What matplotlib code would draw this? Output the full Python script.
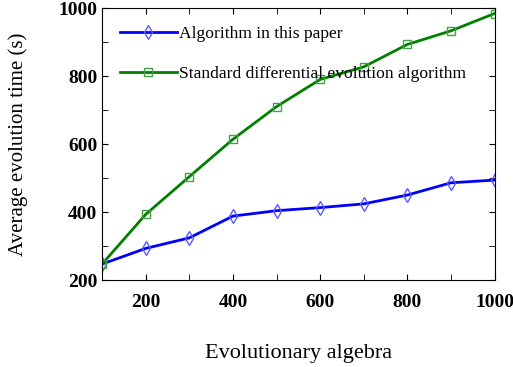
import matplotlib.pyplot as plt
from matplotlib.ticker import MultipleLocator

plt.rcParams['font.family'] = ['Liberation Serif', 'DejaVu Serif']

# Data
generations = [100, 200, 300, 400, 500, 600, 700, 800, 900, 1000]
time_paper = [247, 293, 324, 388, 404, 413, 424, 450, 486, 494]
time_standard = [247, 393, 504, 614, 710, 790, 827, 893, 933, 984]

fig = plt.figure(figsize=(5.13, 3.67), dpi=100)
ax = fig.add_axes([0.199, 0.237, 0.765, 0.741])

ax.plot(generations, time_paper, color='#0000ff', lw=2, marker='d', ms=7,
        mfc='none', mec='#5a5aff', mew=1, label='Algorithm in this paper')
ax.plot(generations, time_standard, color='#007f00', lw=2, marker='s', ms=6,
        mfc='none', mec='#44a044', mew=1, label='Standard differential evolution algorithm')

ax.set_xlim(100, 1000)
ax.set_ylim(200, 1000)
ax.xaxis.set_major_locator(MultipleLocator(200))
ax.xaxis.set_minor_locator(MultipleLocator(100))
ax.yaxis.set_major_locator(MultipleLocator(200))
ax.yaxis.set_minor_locator(MultipleLocator(100))
ax.tick_params(which='both', direction='in', top=True, right=True, labelsize=14)
ax.tick_params(which='major', length=4)
ax.tick_params(which='minor', length=4)
for lab in ax.get_xticklabels() + ax.get_yticklabels():
    lab.set_fontweight('bold')
ax.tick_params(axis='x', pad=10)

ax.set_xlabel('Evolutionary algebra', fontsize=16, labelpad=24)
ax.set_ylabel('Average evolution time (s)', fontsize=15, labelpad=22)

ax.legend(loc='upper left', frameon=False, fontsize=12.6, handlelength=3.3,
          handletextpad=0.1, labelspacing=1.35, borderaxespad=0.6,
          borderpad=0.4)

fig.savefig('out.png', dpi=100)
